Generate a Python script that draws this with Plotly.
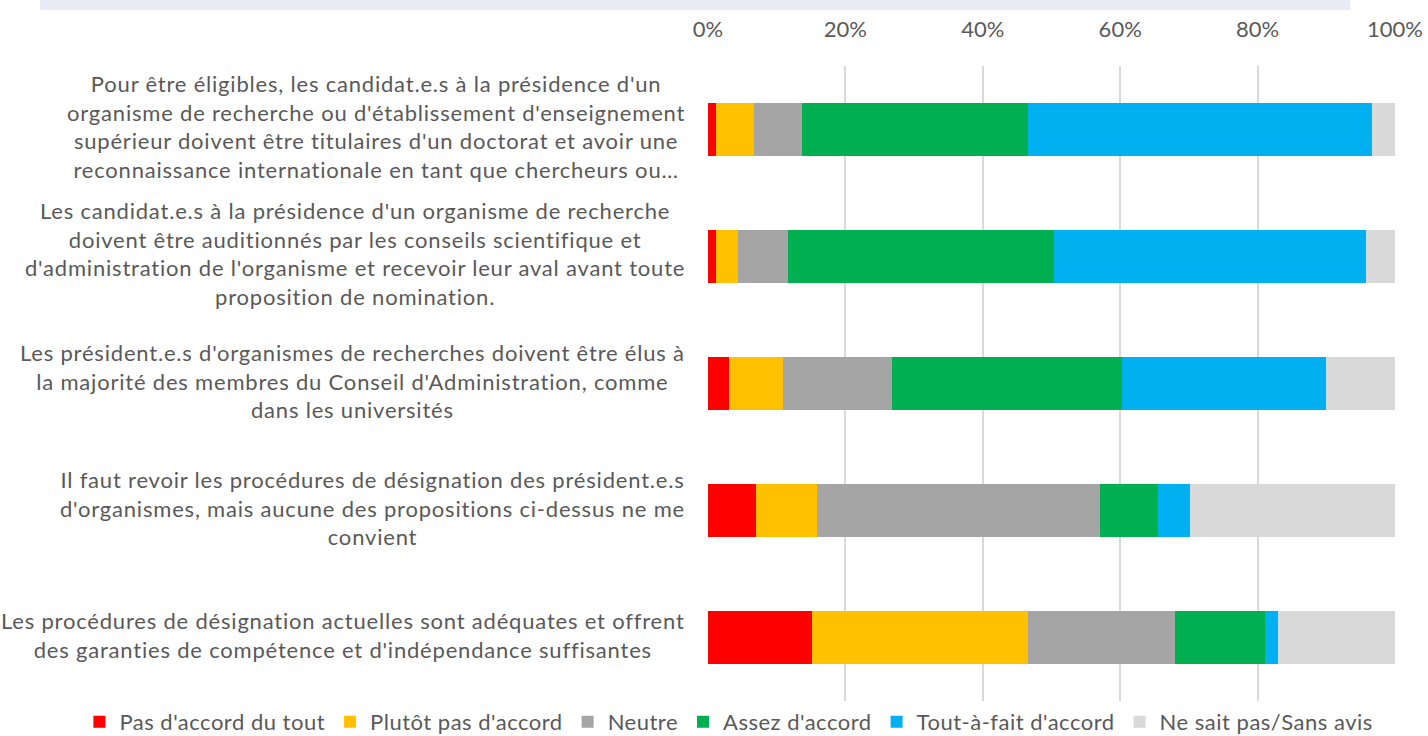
import plotly.graph_objects as go

categories = [
    "Pour être éligibles, les candidat.e.s à la présidence d'un<br>organisme de recherche ou d'établissement d'enseignement<br>supérieur doivent être titulaires d'un doctorat et avoir une<br>reconnaissance internationale en tant que chercheurs ou…",
    "Les candidat.e.s à la présidence d'un organisme de recherche<br>doivent être auditionnés par les conseils scientifique et<br>d'administration de l'organisme et recevoir leur aval avant toute<br>proposition de nomination.",
    "Les président.e.s d'organismes de recherches doivent être élus à<br>la majorité des membres du Conseil d'Administration, comme<br>dans les universités",
    "Il faut revoir les procédures de désignation des président.e.s<br>d'organismes, mais aucune des propositions ci-dessus ne me<br>convient",
    "Les procédures de désignation actuelles sont adéquates et offrent<br>des garanties de compétence et d'indépendance suffisantes",
]

series_names = [
    "Pas d'accord du tout",
    "Plutôt pas d'accord",
    "Neutre",
    "Assez d'accord",
    "Tout-à-fait d'accord",
    "Ne sait pas/Sans avis",
]

pas_du_tout = [1.2, 1.2, 3.1, 7.0, 15.2]
plutot_pas = [5.5, 3.1, 7.8, 8.9, 31.4]
neutre = [7.0, 7.3, 15.9, 41.2, 21.4]
assez = [32.9, 38.8, 33.4, 8.4, 13.1]
tout_a_fait = [50.1, 45.4, 29.8, 4.7, 1.9]
sans_avis = [3.3, 4.2, 10.0, 29.8, 17.0]

series_values = [pas_du_tout, plutot_pas, neutre, assez, tout_a_fait, sans_avis]
colors = ["#FF0000", "#FFC000", "#A5A5A5", "#00B050", "#00B0F0", "#D9D9D9"]

tick_vals = [0, 20, 40, 60, 80, 100]
tick_text = ["0%", "20%", "40%", "60%", "80%", "100%"]

FONT = "Lato"
TXT = "#595959"


def spaced(s, ls=0.8):
    lines = s.split("<br>")
    return "<br>".join(
        '<span style="letter-spacing:%spx">%s</span>' % (ls, ln) for ln in lines
    )


ids = list(range(len(categories)))

fig = go.Figure()
for name, vals, col in zip(series_names, series_values, colors):
    fig.add_trace(go.Bar(
        y=ids, x=vals, name=spaced(name, 0.5), orientation="h",
        marker=dict(color=col, line=dict(width=0)),
        width=0.41,
    ))

for i, lab in enumerate(categories):
    fig.add_annotation(
        x=0, xref="paper", y=i, yref="y",
        xanchor="right", yanchor="middle", xshift=-21, yshift=3,
        text=spaced(lab), showarrow=False, align="center",
        font=dict(family=FONT, size=22, color=TXT),
    )

fig.add_shape(
    type="rect", xref="paper", yref="paper",
    x0=-0.9723, x1=0.9345, y0=1.088, y1=1.2,
    fillcolor="#E8EAF5", line=dict(width=0), layer="below",
)

fig.update_layout(
    barmode="stack",
    width=1428, height=736,
    margin=dict(l=708, r=33, t=66, b=35, autoexpand=False),
    paper_bgcolor="white", plot_bgcolor="white",
    font=dict(family=FONT, color=TXT, size=22),
    xaxis=dict(
        side="top", range=[0, 100], tickvals=tick_vals, ticktext=tick_text,
        showgrid=True, gridcolor="#D9D9D9", gridwidth=1.5,
        zeroline=False, showline=False,
        ticks="outside", ticklen=19, tickcolor="rgba(0,0,0,0)",
        tickfont=dict(family=FONT, size=22, color=TXT),
    ),
    yaxis=dict(
        range=[4.5, -0.5], showticklabels=False, showgrid=False,
        zeroline=False, showline=False, tickvals=ids,
    ),
    legend=dict(
        orientation="h", xref="paper", x=-0.915, xanchor="left",
        yref="paper", y=-0.033, yanchor="middle",
        font=dict(family=FONT, size=22, color=TXT),
        traceorder="normal", bgcolor="rgba(0,0,0,0)",
    ),
    showlegend=True,
)

fig.write_html(
    "out.html",
    config={"displayModeBar": False},
    post_script="document.body.style.margin='0';",
)
